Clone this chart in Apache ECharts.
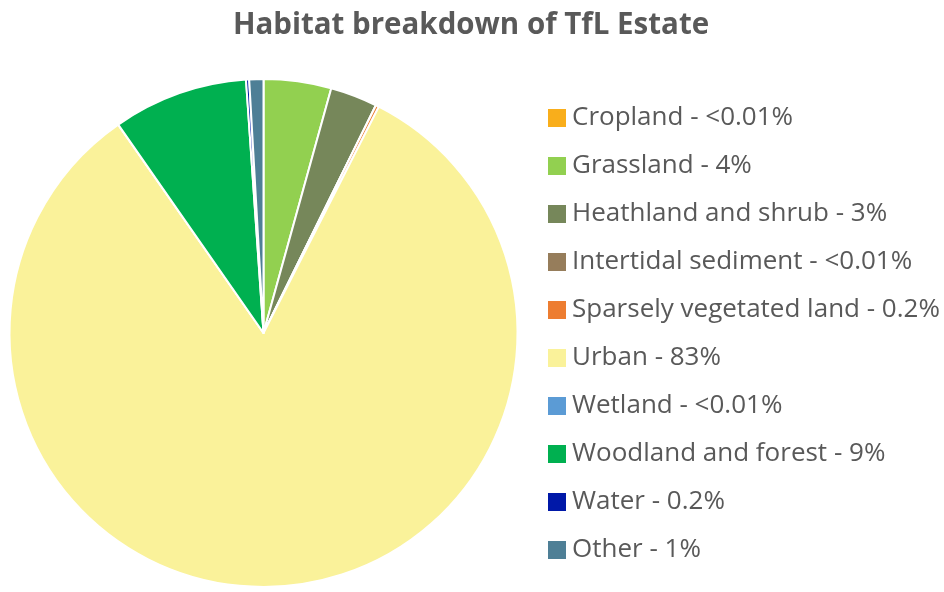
<!DOCTYPE html>
<html><head><meta charset="utf-8">
<script src="https://cdn.jsdelivr.net/npm/echarts@6/dist/echarts.min.js"></script>
<style>html,body{margin:0;padding:0;background:#fff}#c{width:944px;height:592px}</style>
</head><body><div id="c"></div>
<script>
const categories = ["Cropland","Grassland","Heathland and shrub","Intertidal sediment","Sparsely vegetated land","Urban","Wetland","Woodland and forest","Water","Other"];
const values = [0.005, 4.3, 3.0, 0.005, 0.2, 82.9, 0.005, 8.6, 0.2, 0.9];
const percentLabels = ["<0.01%","4%","3%","<0.01%","0.2%","83%","<0.01%","9%","0.2%","1%"];
const colors = ["#F9AE1B","#92D050","#76875A","#967D5B","#ED7D31","#FAF29A","#5B9BD5","#00B050","#0018A8","#4E7F96"];

const chart = echarts.init(document.getElementById('c'), null, {renderer:'canvas'});
const labelOf = {};
categories.forEach((c,i)=>labelOf[c]=c+' - '+percentLabels[i]);
chart.setOption({
  animation:false,
  backgroundColor:'#fff',
  title:{text:'Habitat breakdown of TfL Estate', left:466, textAlign:'center', top:6,
    textStyle:{fontFamily:'Open Sans', fontWeight:'bold', fontSize:29.5, color:'#595959'}},
  legend:{orient:'vertical', left:541, top:100, itemWidth:20, itemHeight:20, itemGap:22,
    icon:'rect', data:categories,
    formatter:n=>labelOf[n],
    textStyle:{fontFamily:'Open Sans', fontSize:26, lineHeight:26, color:'#595959', padding:[0,0,0,0]}},
  series:[{type:'pie', center:[263.5,333], radius:[0,254], startAngle:90, clockwise:true,
    avoidLabelOverlap:false, label:{show:false}, labelLine:{show:false}, minAngle:0,
    itemStyle:{borderColor:'#fff', borderWidth:2},
    emphasis:{disabled:true},
    data:categories.map((c,i)=>({name:c, value:values[i], itemStyle:{color:colors[i]}}))}]
});
</script></body></html>
